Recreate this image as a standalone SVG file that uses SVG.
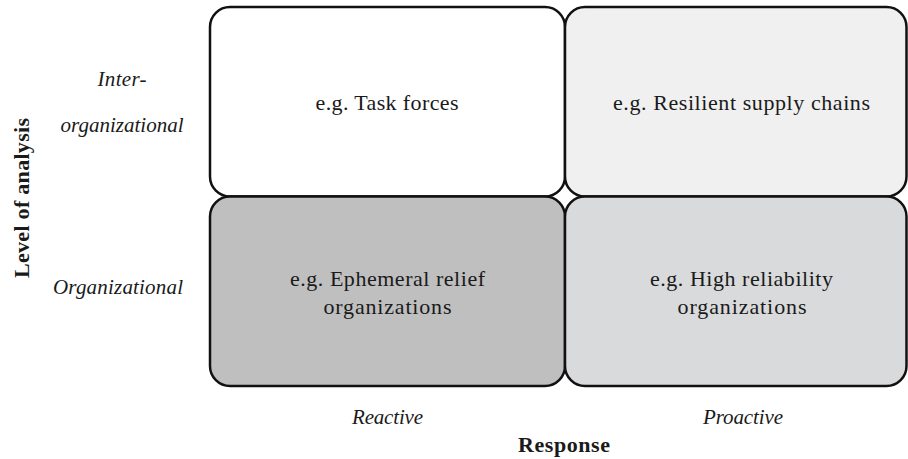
<svg xmlns="http://www.w3.org/2000/svg" width="908" height="459" viewBox="0 0 908 459">
  <style>
    .cell { stroke: #111; stroke-width: 2.5; }
    .t { font-family: "Liberation Serif", "Times New Roman", serif; font-size: 22px; fill: #1a1a1a; text-anchor: middle; }
    .it { font-style: italic; font-size: 21px; }
    .b { font-weight: bold; }
  </style>
  <rect width="908" height="459" fill="#fff"/>

  <!-- 2x2 matrix cells -->
  <g id="cell-task-forces">
    <rect class="cell" x="210" y="7" width="355" height="189.5" rx="20" fill="#ffffff"/>
    <text class="t" x="387" y="110" textLength="143" lengthAdjust="spacing">e.g. Task forces</text>
  </g>
  <g id="cell-supply-chains">
    <rect class="cell" x="565" y="7" width="341.5" height="189.5" rx="20" fill="#f0f0f0"/>
    <text class="t" x="741.5" y="110" textLength="257" lengthAdjust="spacing">e.g. Resilient supply chains</text>
  </g>
  <g id="cell-ephemeral">
    <rect class="cell" x="210" y="196.5" width="355" height="189.5" rx="20" fill="#bfbfbf"/>
    <text class="t" x="387.5" y="286" textLength="195" lengthAdjust="spacing">e.g. Ephemeral relief</text>
    <text class="t" x="387.5" y="314" textLength="128" lengthAdjust="spacing">organizations</text>
  </g>
  <g id="cell-high-reliability">
    <rect class="cell" x="565" y="196.5" width="341.5" height="189.5" rx="20" fill="#d9dadc"/>
    <text class="t" x="741.5" y="286" textLength="183" lengthAdjust="spacing">e.g. High reliability</text>
    <text class="t" x="742" y="314" textLength="129" lengthAdjust="spacing">organizations</text>
  </g>

  <!-- Row labels -->
  <g id="label-inter">
    <text class="t it" x="122" y="86" textLength="49" lengthAdjust="spacing">Inter-</text>
    <text class="t it" x="122" y="132" textLength="123" lengthAdjust="spacing">organizational</text>
  </g>
  <g id="label-organizational">
    <text class="t it" x="118" y="294" textLength="130" lengthAdjust="spacing">Organizational</text>
  </g>
  <g id="axis-y">
    <text class="t b" transform="translate(29,198) rotate(-90)" x="0" y="0" textLength="160" lengthAdjust="spacing">Level of analysis</text>
  </g>

  <!-- Column labels -->
  <g id="label-reactive">
    <text class="t it" x="387.5" y="424" textLength="71" lengthAdjust="spacing">Reactive</text>
  </g>
  <g id="label-proactive">
    <text class="t it" x="743" y="424" textLength="80" lengthAdjust="spacing">Proactive</text>
  </g>
  <g id="axis-x">
    <text class="t b" x="564" y="452" textLength="92" lengthAdjust="spacing">Response</text>
  </g>
</svg>
